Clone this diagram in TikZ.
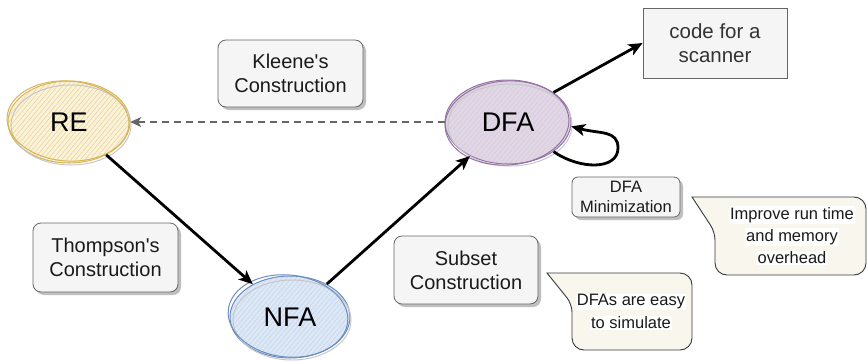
\documentclass[tikz,border=0pt]{standalone}
\usepackage{fontspec}
\setmainfont{Liberation Sans}[Ligatures=TeXOff]
\usetikzlibrary{arrows.meta,shadows,patterns.meta,shapes.geometric}

\definecolor{boxfill}{HTML}{F5F5F5}
\definecolor{boxline}{HTML}{666666}
\definecolor{boxtext}{HTML}{1A1A1A}
\definecolor{codetext}{HTML}{333333}
\definecolor{notefill}{HTML}{F9F7ED}
\definecolor{noteline}{HTML}{36393D}
\definecolor{refill}{HTML}{FFF2CC}
\definecolor{reline}{HTML}{D6B656}
\definecolor{dfafill}{HTML}{E1D5E7}
\definecolor{dfaline}{HTML}{9673A6}
\definecolor{nfafill}{HTML}{DAE8FC}
\definecolor{nfaline}{HTML}{6C8EBF}
\definecolor{dashgray}{HTML}{666666}

\tikzset{
  stepbox/.style={draw=boxline, fill=boxfill, rounded corners=8pt, line width=0.8pt,
    align=center, text=boxtext, inner sep=2pt,
    font=\fontsize{20}{24}\selectfont,
    drop shadow={shadow xshift=3pt, shadow yshift=-3pt, opacity=0.25, fill=black}},
  smallbox/.style={stepbox, font=\fontsize{16.5}{19.5}\selectfont, rounded corners=6pt},
  codebox/.style={draw=boxline, fill=boxfill, line width=0.8pt, align=center,
    text=codetext, font=\fontsize{20.5}{24.5}\selectfont},
  statenode/.style={ellipse, line width=1pt, text=black,
    font=\fontsize{27}{30}\selectfont,
    preaction={fill=#1fill},
    pattern={Lines[angle=50, distance=3.6pt, line width=0.5pt]}, pattern color=black!18},
  sketch/.style={line width=1pt, draw=#1},
  noteshape/.style={draw=noteline, fill=notefill, line width=0.9pt},
  notetext/.style={fill=white, inner sep=1pt, text=boxtext,
    font=\fontsize{16.5}{19}\selectfont},
  arr/.style={line width=2.8pt, black, -{Stealth[length=14pt, width=12pt, inset=3.5pt]}},
  dasharr/.style={line width=1.5pt, dashgray, dash pattern=on 7pt off 5pt,
    -{Stealth[length=11pt, width=10pt, inset=3pt]}},
}

\begin{document}
\begin{tikzpicture}[x=1pt, y=-1pt]
\useasboundingbox (0,0) rectangle (867,362);

% --- automaton states (hand-drawn look) ---
\node[statenode=re,  draw=reline,  minimum width=122pt, minimum height=82pt] (RE)  at (69,122)  {};
\node[statenode=dfa, draw=dfaline, minimum width=126pt, minimum height=84pt] (DFA) at (508,122) {};
\node[statenode=nfa, draw=nfaline, minimum width=120pt, minimum height=82pt] (NFA) at (290,317) {};

% extra sketch strokes around the states
\draw[sketch=black!22] ([shift={(2,3)}]RE.center)  ellipse [x radius=60, y radius=40];
\draw[sketch=reline]   ([shift={(-1,-1)}]RE.center) ellipse [x radius=61, y radius=40, rotate=-4];
\draw[sketch=black!22] ([shift={(2,3)}]DFA.center)  ellipse [x radius=62, y radius=41];
\draw[sketch=dfaline]  ([shift={(-1,1)}]DFA.center) ellipse [x radius=62, y radius=42, rotate=4];
\draw[sketch=black!22] ([shift={(2,3)}]NFA.center)  ellipse [x radius=59, y radius=40];
\draw[sketch=nfaline]  ([shift={(-2,-1)}]NFA.center) ellipse [x radius=60, y radius=41, rotate=-6];
\node[font=\fontsize{27}{30}\selectfont] (RElbl)  at (RE.center)  {RE};
\node[font=\fontsize{27}{30}\selectfont] (DFAlbl) at (DFA.center) {DFA};
\node[font=\fontsize{27}{30}\selectfont] (NFAlbl) at (NFA.center) {NFA};

% --- construction labels ---
\node[stepbox, minimum width=145pt, minimum height=67pt] (kleene)   at (290.5,73.5) {Kleene's\\Construction};
\node[stepbox, minimum width=145pt, minimum height=69pt] (thompson) at (105.5,257.5) {Thompson's\\Construction};
\node[stepbox, minimum width=144pt, minimum height=68pt] (subset)   at (466,270) {Subset\\Construction};
\node[smallbox, minimum width=108pt, minimum height=40pt] (minim)   at (626,197) {DFA\\Minimization};

% --- output ---
\node[codebox, minimum width=144pt, minimum height=70pt] (code) at (715,43) {code for a\\scanner};

% --- callout notes ---
\draw[noteshape] (692,197) [rounded corners=12pt] -- (866,197) -- (866,275) -- (715,275)
  [rounded corners=8pt] -- (715,232) [sharp corners] -- cycle;
\node[notetext] (imp1) at (792,215) {Improve run time};
\node[notetext] (imp2) at (792,237) {and memory};
\node[notetext] (imp3) at (792,258) {overhead};

\draw[noteshape] (547,273) [rounded corners=12pt] -- (692,273) -- (692,350) -- (572,350)
  [rounded corners=8pt] -- (572,304) [sharp corners] -- cycle;
\node[notetext] (sim1) at (631,302) {DFAs are easy};
\node[notetext] (sim2) at (631,323) {to simulate};

% --- transitions ---
\draw[arr] (RE) -- (NFA);
\draw[arr] (NFA) -- (DFA);
\draw[arr] (DFA.33) -- (code.west);
\draw[arr] (DFA.-33) .. controls (580,170) and (618,170) .. (618,148)
                     .. controls (618,130) and (600,134) .. (DFA.-4);
\draw[dasharr] (DFA.west) -- (RE.east);

\end{tikzpicture}
\end{document}
